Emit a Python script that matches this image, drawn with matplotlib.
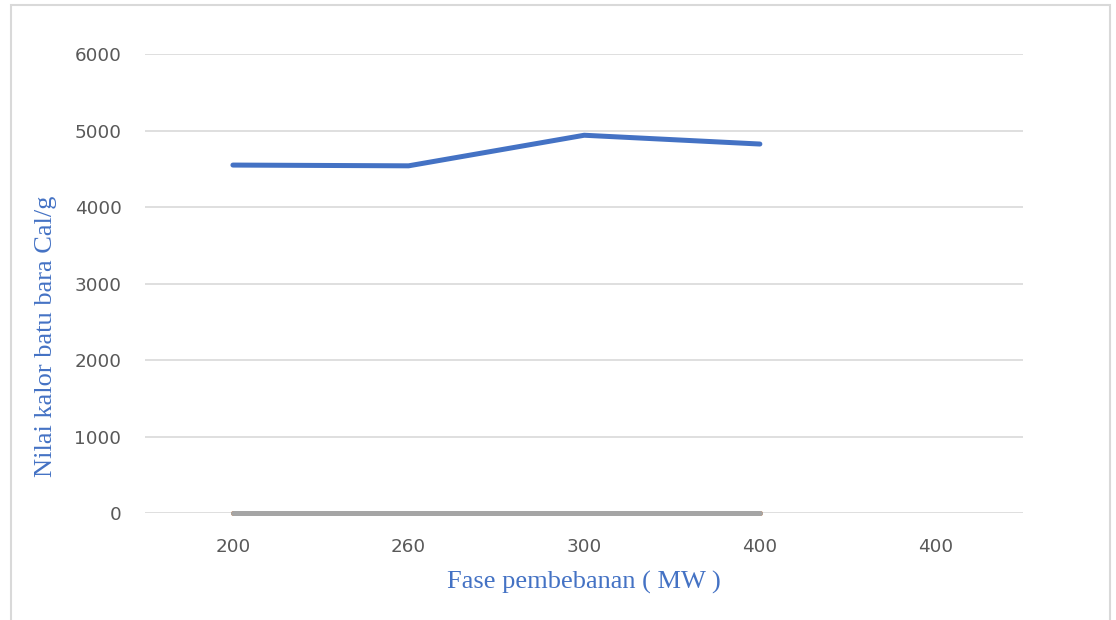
import matplotlib.pyplot as plt
from matplotlib.patches import Rectangle

categories = ["200", "260", "300", "400", "400"]
kalor = [4550, 4540, 4940, 4825]
seri2 = [6, 6, 6, 6]
seri3 = [3, 3, 3, 3]
yticks = [0, 1000, 2000, 3000, 4000, 5000, 6000]

fig = plt.figure(figsize=(11.16, 6.2), dpi=100)
ax = fig.add_axes([0.130, 0.1726, 0.787, 0.740])

x = list(range(len(kalor)))
ax.plot(x, seri2, color="#ED7D31", lw=3.6, solid_capstyle="round", zorder=3, clip_on=False)
ax.plot(x, seri3, color="#A5A5A5", lw=3.6, solid_capstyle="round", zorder=4, clip_on=False)
ax.plot(x, kalor, color="#4472C4", lw=3.6, solid_capstyle="round", zorder=5)

ax.set_xlim(-0.5, len(categories) - 0.5)
ax.set_ylim(0, 6000)
ax.set_xticks(range(len(categories)))
ax.set_xticklabels(categories)
ax.set_yticks(yticks)
ax.grid(axis="y", color="#D9D9D9", lw=1.2)
ax.set_axisbelow(True)
for s in ax.spines.values():
    s.set_visible(False)
ax.tick_params(length=0, labelsize=13.2, labelcolor="#595959")
ax.tick_params(axis="y", pad=17)
ax.tick_params(axis="x", pad=18)

fig.text(0.523, 0.061, "Fase pembebanan ( MW )", ha="center", va="center",
         family="Liberation Serif", fontsize=19, color="#4472C4")
fig.text(0.041, 0.458, "Nilai kalor batu bara Cal/g", ha="center", va="center",
         rotation=90, family="Liberation Serif", fontsize=19, color="#4472C4")

fig.patches.append(Rectangle((11 / 1116, -0.05), (1110 - 11) / 1116, 1.05 - 5 / 620,
                             transform=fig.transFigure, fill=False,
                             edgecolor="#D9D9D9", lw=1.5))

fig.savefig("out.png", dpi=100)
